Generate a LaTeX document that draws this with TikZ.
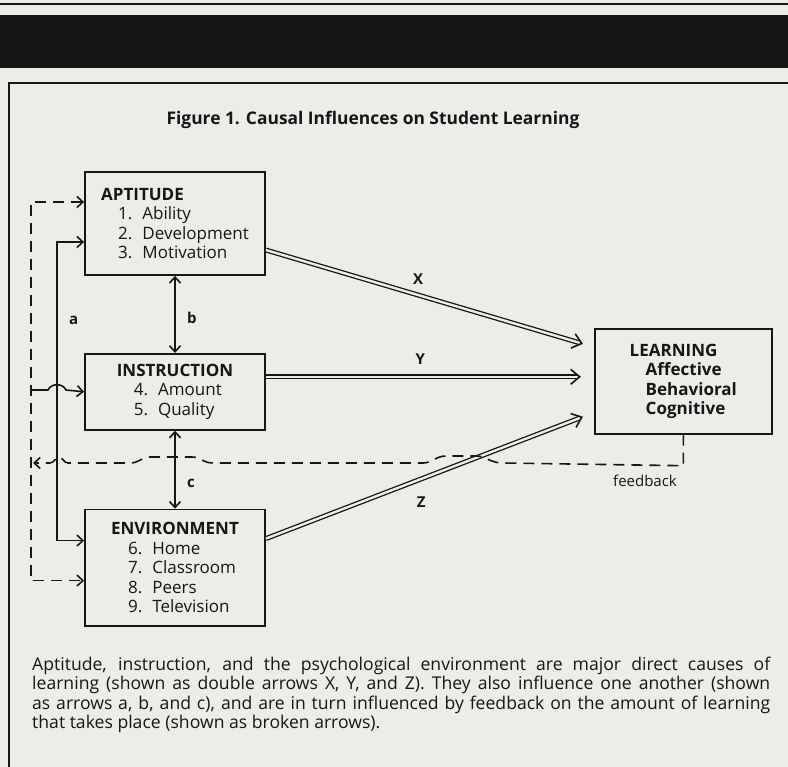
\documentclass[tikz,border=0pt]{standalone}
\usepackage{fontspec}
\setmainfont{Open Sans}
\usetikzlibrary{arrows.meta,positioning,calc}
\definecolor{paper}{RGB}{236,236,233}
\definecolor{ink}{RGB}{22,22,22}
\tikzset
{
    factor/.style = {rectangle, draw=ink, line width=1.8pt, minimum width=180pt, align=left, inner sep=0pt, font=\fontsize{17}{19.6}\selectfont},
    arrow/.style = {line width=1.6pt, ->, >={Straight Barb[length=6pt,width=11pt]}},
    twoway/.style = {line width=1.6pt, <->, >={Straight Barb[length=6pt,width=11pt]}},
    broken/.style = {line width=1.6pt, dash pattern=on 11pt off 7pt},
    causal/.style = {double=paper, double distance=2.4pt, line width=1.3pt, shorten >=3pt},
    causaltip/.style = {line width=1.6pt, -{Straight Barb[length=9pt,width=15pt]}},
    lbl/.style = {font=\fontsize{15}{15}\selectfont\bfseries}
}
\newcommand{\entry}[2]{\hspace*{17pt}#1\hspace{10pt}#2}

\begin{document}
\begin{tikzpicture}[x=1pt, y=1pt, color=ink]
	\fill[paper] (0,0) rectangle (788,-767);
	\useasboundingbox (0,0) rectangle (788,-767);
	\draw[line width=1.5pt] (0,-4) -- (788,-4);
	\fill[ink] (0,-15) rectangle (788,-68);
	\draw[line width=1.8pt] (9,-775) -- (9,-83) -- (795,-83);

	\node (title) [anchor=base, font=\fontsize{17.4}{20}\selectfont\bfseries] at (373,-125) {Figure 1. Causal Influences on Student Learning};

	\node (apt) [factor, minimum height=103pt] at (175,-223.5) {\textbf{APTITUDE}\\ \entry{1.}{Ability}\\ \entry{2.}{Development}\\ \entry{3.}{Motivation}};
	\node (instr) [factor, below=77pt of apt, minimum height=76pt] {\textbf{INSTRUCTION}\\ \entry{4.}{Amount}\\ \entry{5.}{Quality}};
	\node (env) [factor, below=78pt of instr, minimum height=116pt] {\textbf{ENVIRONMENT}\\ \entry{6.}{Home}\\ \entry{7.}{Classroom}\\ \entry{8.}{Peers}\\ \entry{9.}{Television}};
	\node (learn) [factor, right=328pt of instr, yshift=10.5pt, minimum width=177pt, minimum height=105pt, font=\fontsize{17}{19.6}\selectfont\bfseries] {LEARNING\\ \hspace*{16pt}Affective\\ \hspace*{16pt}Behavioral\\ \hspace*{16pt}Cognitive};

	\coordinate (xs) at ($(apt.east)+(0,-26.5)$);
	\coordinate (xt) at ($(learn.west)+(-11,37.5)$);
	\coordinate (ys) at ($(instr.east)+(0,15)$);
	\coordinate (yt) at ($(learn.west)+(-13,4.5)$);
	\coordinate (zs) at ($(env.east)+(0,29)$);
	\coordinate (zt) at ($(learn.west)+(-11,-35.5)$);
	\coordinate (aMid) at (57,-320);
	\coordinate (fbLeft) at (31,-390);
	\coordinate (fbCorner) at ($(learn.south)+(0,-31)$);

	\draw [causal] (xs) -- node[lbl, pos=0.48, above=7pt] {X} (xt);
	\draw [causaltip] ($(xt)!1pt!(xs)$) -- (xt);
	\draw [causal] (ys) -- node[lbl, pos=0.49, above=8pt] {Y} (yt);
	\draw [causaltip] ($(yt)!1pt!(ys)$) -- (yt);
	\draw [causal] (zs) -- node[lbl, pos=0.49, below=14pt] {Z} (zt);
	\draw [causaltip] ($(zt)!1pt!(zs)$) -- (zt);

	\draw [twoway] (apt.south) -- node[lbl, pos=0.55, right=8pt] {b} (instr.north);
	\draw [twoway] (instr.south) -- node[lbl, pos=0.67, right=8pt] {c} (env.north);
	\draw [twoway] ($(apt.west)+(0,-18.5)$) -| (aMid) node[lbl, right=8pt] {a} |- ($(env.west)+(0,27)$);

	\draw [broken, <->, >={Straight Barb[length=6pt,width=11pt]}] ($(apt.west)+(0,21.5)$) -| (fbLeft) |- ($(env.west)+(0,-13)$);
	\draw [arrow] (fbLeft) -- (48,-390) .. controls (51,-383) and (63,-383) .. (66,-390) -- (instr.west);
	\draw [broken, ->, >={Straight Barb[length=6pt,width=11pt]}] (learn.south) -- (fbCorner) -- (503,-463)
		.. controls (490,-463) and (486,-456) .. (476,-456) -- (446,-456) .. controls (436,-456) and (432,-463) .. (423,-463)
		-- (213,-463) .. controls (203,-463) and (200,-457) .. (192,-457) -- (150,-457) .. controls (142,-457) and (139,-463) .. (130,-463)
		-- (68,-463) .. controls (64,-463) and (62,-457) .. (59,-457) .. controls (56,-457) and (54,-463) .. (50,-463) -- (33,-463);
	\node (fb) [font=\fontsize{15}{15}\selectfont, anchor=base] at (645,-486) {feedback};

	\node (caption) [anchor=north west, text width=738pt, align=justify, inner sep=0pt, font=\fontsize{17.6}{19.2}\selectfont] at (32,-657) {Aptitude, instruction, and the psychological environment are major direct causes of\linebreak learning (shown as double arrows X, Y, and Z). They also influence one another (shown\linebreak as arrows a, b, and c), and are in turn influenced by feedback on the amount of learning\linebreak that takes place (shown as broken arrows).};
\end{tikzpicture}
\end{document}
